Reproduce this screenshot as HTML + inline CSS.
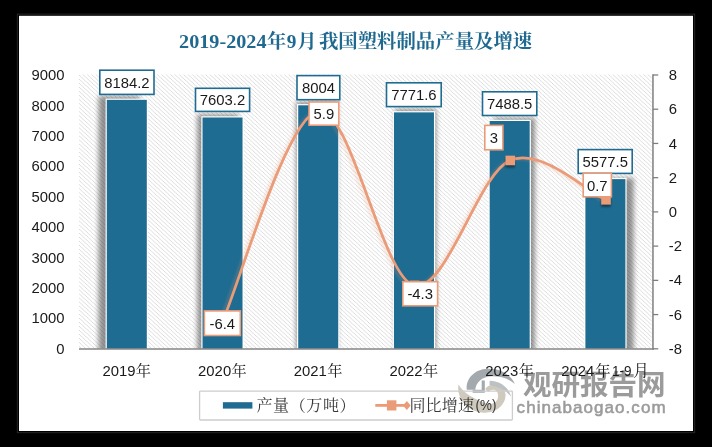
<!DOCTYPE html>
<html><head><meta charset="utf-8"><title>2019-2024年9月我国塑料制品产量及增速</title>
<style>html,body{margin:0;padding:0;background:#000;}body{width:712px;height:447px;overflow:hidden;font-family:"Liberation Sans",sans-serif;}svg{display:block;}</style>
</head><body>
<svg width="712" height="447" viewBox="0 0 712 447" role="img"><title>2019-2024年9月我国塑料制品产量及增速</title>
<defs>
<pattern id="hatch" width="4" height="4" patternUnits="userSpaceOnUse" patternTransform="translate(79,75) scale(1.095,1.0125)"><rect width="4" height="4" fill="#fff"/><path d="M-1,-1L5,5M-1,3L1,5M3,-1L5,1" stroke="#d5d5d5" stroke-width="0.8" fill="none"/></pattern>
<filter id="b2" x="-50%" y="-20%" width="200%" height="140%"><feGaussianBlur stdDeviation="2.4"/></filter>
<filter id="b1" x="-50%" y="-50%" width="200%" height="200%"><feGaussianBlur stdDeviation="1.3"/></filter>
<clipPath id="plot"><rect x="79" y="74.5" width="574" height="274.3"/></clipPath>
</defs>
<rect width="712" height="447" fill="#000"/>
<g opacity="0.999">
<rect x="17.3" y="14.1" width="677.4" height="418.6" fill="none" stroke="#2a2a2a" stroke-width="0.9"/>
<rect x="19" y="15.8" width="674" height="415.2" fill="#fff"/>
<rect x="79.0" y="74.5" width="572.75" height="274.3" fill="url(#hatch)"/>
<g clip-path="url(#plot)">
<rect x="98.51" y="96.13" width="41.28" height="262.95" fill="#000" opacity="0.42" filter="url(#b2)"/>
<rect x="197.29" y="114.37" width="41.28" height="244.71" fill="#000" opacity="0.42" filter="url(#b2)"/>
<rect x="296.07" y="101.79" width="41.28" height="257.29" fill="#000" opacity="0.42" filter="url(#b2)"/>
<rect x="394.85" y="109.09" width="41.28" height="250.00" fill="#000" opacity="0.42" filter="url(#b2)"/>
<rect x="493.64" y="117.97" width="41.28" height="241.11" fill="#000" opacity="0.42" filter="url(#b2)"/>
<rect x="592.42" y="177.97" width="41.28" height="181.11" fill="#000" opacity="0.42" filter="url(#b2)"/>
</g>
<rect x="105.60" y="98.62" width="42.40" height="250.18" fill="#fff"/>
<rect x="106.80" y="99.82" width="40.00" height="248.98" fill="#1e6c91"/>
<rect x="201.32" y="116.29" width="42.40" height="232.51" fill="#fff"/>
<rect x="202.52" y="117.49" width="40.00" height="231.31" fill="#1e6c91"/>
<rect x="297.04" y="104.10" width="42.40" height="244.70" fill="#fff"/>
<rect x="298.24" y="105.30" width="40.00" height="243.50" fill="#1e6c91"/>
<rect x="392.76" y="111.17" width="42.40" height="237.63" fill="#fff"/>
<rect x="393.96" y="112.37" width="40.00" height="236.43" fill="#1e6c91"/>
<rect x="488.48" y="119.78" width="42.40" height="229.02" fill="#fff"/>
<rect x="489.68" y="120.98" width="40.00" height="227.82" fill="#1e6c91"/>
<rect x="584.20" y="177.92" width="42.40" height="170.88" fill="#fff"/>
<rect x="585.40" y="179.12" width="40.00" height="169.68" fill="#1e6c91"/>
<line x1="79.0" y1="349.0" x2="653.6500000000001" y2="349.0" stroke="#868686" stroke-width="1.6"/>
<line x1="652.95" y1="74.3" x2="652.95" y2="349.7" stroke="#868686" stroke-width="1.6"/>
<line x1="652.95" y1="75.00" x2="658.25" y2="75.00" stroke="#7c7c7c" stroke-width="1.25"/>
<text x="668.7" y="80.10" font-family="'Liberation Sans', sans-serif" font-size="14.85" fill="#1a1a1a">8</text>
<line x1="652.95" y1="109.22" x2="658.25" y2="109.22" stroke="#7c7c7c" stroke-width="1.25"/>
<text x="668.7" y="114.32" font-family="'Liberation Sans', sans-serif" font-size="14.85" fill="#1a1a1a">6</text>
<line x1="652.95" y1="143.45" x2="658.25" y2="143.45" stroke="#7c7c7c" stroke-width="1.25"/>
<text x="668.7" y="148.55" font-family="'Liberation Sans', sans-serif" font-size="14.85" fill="#1a1a1a">4</text>
<line x1="652.95" y1="177.68" x2="658.25" y2="177.68" stroke="#7c7c7c" stroke-width="1.25"/>
<text x="668.7" y="182.78" font-family="'Liberation Sans', sans-serif" font-size="14.85" fill="#1a1a1a">2</text>
<line x1="652.95" y1="211.90" x2="658.25" y2="211.90" stroke="#7c7c7c" stroke-width="1.25"/>
<text x="668.7" y="217.00" font-family="'Liberation Sans', sans-serif" font-size="14.85" fill="#1a1a1a">0</text>
<line x1="652.95" y1="246.12" x2="658.25" y2="246.12" stroke="#7c7c7c" stroke-width="1.25"/>
<text x="668.7" y="251.22" font-family="'Liberation Sans', sans-serif" font-size="14.85" fill="#1a1a1a">-2</text>
<line x1="652.95" y1="280.35" x2="658.25" y2="280.35" stroke="#7c7c7c" stroke-width="1.25"/>
<text x="668.7" y="285.45" font-family="'Liberation Sans', sans-serif" font-size="14.85" fill="#1a1a1a">-4</text>
<line x1="652.95" y1="314.58" x2="658.25" y2="314.58" stroke="#7c7c7c" stroke-width="1.25"/>
<text x="668.7" y="319.68" font-family="'Liberation Sans', sans-serif" font-size="14.85" fill="#1a1a1a">-6</text>
<line x1="652.95" y1="348.80" x2="658.25" y2="348.80" stroke="#7c7c7c" stroke-width="1.25"/>
<text x="668.7" y="353.90" font-family="'Liberation Sans', sans-serif" font-size="14.85" fill="#1a1a1a">-8</text>
<text x="64.6" y="353.90" font-family="'Liberation Sans', sans-serif" font-size="14.85" fill="#1a1a1a" text-anchor="end">0</text>
<text x="64.6" y="323.48" font-family="'Liberation Sans', sans-serif" font-size="14.85" fill="#1a1a1a" text-anchor="end">1000</text>
<text x="64.6" y="293.06" font-family="'Liberation Sans', sans-serif" font-size="14.85" fill="#1a1a1a" text-anchor="end">2000</text>
<text x="64.6" y="262.63" font-family="'Liberation Sans', sans-serif" font-size="14.85" fill="#1a1a1a" text-anchor="end">3000</text>
<text x="64.6" y="232.21" font-family="'Liberation Sans', sans-serif" font-size="14.85" fill="#1a1a1a" text-anchor="end">4000</text>
<text x="64.6" y="201.79" font-family="'Liberation Sans', sans-serif" font-size="14.85" fill="#1a1a1a" text-anchor="end">5000</text>
<text x="64.6" y="171.37" font-family="'Liberation Sans', sans-serif" font-size="14.85" fill="#1a1a1a" text-anchor="end">6000</text>
<text x="64.6" y="140.94" font-family="'Liberation Sans', sans-serif" font-size="14.85" fill="#1a1a1a" text-anchor="end">7000</text>
<text x="64.6" y="110.52" font-family="'Liberation Sans', sans-serif" font-size="14.85" fill="#1a1a1a" text-anchor="end">8000</text>
<text x="64.6" y="80.10" font-family="'Liberation Sans', sans-serif" font-size="14.85" fill="#1a1a1a" text-anchor="end">9000</text>
<path d="M222.52,321.42C238.47,286.34 286.33,116.93 318.24,110.94C350.15,104.95 382.05,277.21 413.96,285.48C445.87,293.75 477.77,174.82 509.68,160.56C541.59,146.30 589.45,193.36 605.40,199.92" fill="none" stroke="#ea9b78" stroke-width="3" opacity="0.2" transform="translate(-3,1)" filter="url(#b1)"/>
<path d="M222.52,321.42C238.47,286.34 286.33,116.93 318.24,110.94C350.15,104.95 382.05,277.21 413.96,285.48C445.87,293.75 477.77,174.82 509.68,160.56C541.59,146.30 589.45,193.36 605.40,199.92" fill="none" stroke="#ea9b78" stroke-width="2.8" stroke-linecap="round" stroke-linejoin="round"/>
<rect x="218.32" y="319.42" width="9.4" height="9" fill="#000" opacity="0.45" filter="url(#b1)"/>
<rect x="218.32" y="316.52" width="9.6" height="9.6" fill="#ea9b78"/>
<rect x="314.04" y="108.94" width="9.4" height="9" fill="#000" opacity="0.45" filter="url(#b1)"/>
<rect x="314.04" y="106.04" width="9.6" height="9.6" fill="#ea9b78"/>
<rect x="409.76" y="283.48" width="9.4" height="9" fill="#000" opacity="0.45" filter="url(#b1)"/>
<rect x="409.76" y="280.58" width="9.6" height="9.6" fill="#ea9b78"/>
<rect x="505.48" y="158.56" width="9.4" height="9" fill="#000" opacity="0.45" filter="url(#b1)"/>
<rect x="505.48" y="155.66" width="9.6" height="9.6" fill="#ea9b78"/>
<rect x="601.20" y="197.92" width="9.4" height="9" fill="#000" opacity="0.45" filter="url(#b1)"/>
<rect x="601.20" y="195.02" width="9.6" height="9.6" fill="#ea9b78"/>
<rect x="99.80" y="70.20" width="54.20" height="24.20" fill="#fff" stroke="#1e6c91" stroke-width="1.6"/>
<text x="126.90" y="87.90" font-family="'Liberation Sans', sans-serif" font-size="14.85" fill="#1a1a1a" text-anchor="middle">8184.2</text>
<rect x="195.50" y="88.30" width="54.10" height="23.10" fill="#fff" stroke="#1e6c91" stroke-width="1.6"/>
<text x="222.55" y="105.45" font-family="'Liberation Sans', sans-serif" font-size="14.85" fill="#1a1a1a" text-anchor="middle">7603.2</text>
<rect x="297.00" y="75.60" width="42.80" height="24.10" fill="#fff" stroke="#1e6c91" stroke-width="1.6"/>
<text x="318.40" y="93.25" font-family="'Liberation Sans', sans-serif" font-size="14.85" fill="#1a1a1a" text-anchor="middle">8004</text>
<rect x="386.50" y="82.80" width="54.70" height="23.80" fill="#fff" stroke="#1e6c91" stroke-width="1.6"/>
<text x="413.85" y="100.30" font-family="'Liberation Sans', sans-serif" font-size="14.85" fill="#1a1a1a" text-anchor="middle">7771.6</text>
<rect x="482.50" y="91.80" width="54.30" height="23.70" fill="#fff" stroke="#1e6c91" stroke-width="1.6"/>
<text x="509.65" y="109.25" font-family="'Liberation Sans', sans-serif" font-size="14.85" fill="#1a1a1a" text-anchor="middle">7488.5</text>
<rect x="578.20" y="149.60" width="54.00" height="23.80" fill="#fff" stroke="#1e6c91" stroke-width="1.6"/>
<text x="605.20" y="167.10" font-family="'Liberation Sans', sans-serif" font-size="14.85" fill="#1a1a1a" text-anchor="middle">5577.5</text>
<rect x="204.40" y="310.90" width="35.90" height="24.60" fill="#fff" stroke="#ea9b78" stroke-width="1.6"/>
<text x="222.35" y="328.80" font-family="'Liberation Sans', sans-serif" font-size="14.85" fill="#1a1a1a" text-anchor="middle">-6.4</text>
<rect x="309.00" y="102.00" width="29.80" height="23.20" fill="#fff" stroke="#ea9b78" stroke-width="1.6"/>
<text x="323.90" y="119.20" font-family="'Liberation Sans', sans-serif" font-size="14.85" fill="#1a1a1a" text-anchor="middle">5.9</text>
<rect x="402.80" y="281.70" width="34.80" height="24.10" fill="#fff" stroke="#ea9b78" stroke-width="1.6"/>
<text x="420.20" y="299.35" font-family="'Liberation Sans', sans-serif" font-size="14.85" fill="#1a1a1a" text-anchor="middle">-4.3</text>
<rect x="484.80" y="125.40" width="18.10" height="24.40" fill="#fff" stroke="#ea9b78" stroke-width="1.6"/>
<text x="493.85" y="143.20" font-family="'Liberation Sans', sans-serif" font-size="14.85" fill="#1a1a1a" text-anchor="middle">3</text>
<rect x="583.20" y="173.20" width="28.20" height="23.60" fill="#fff" stroke="#ea9b78" stroke-width="1.6"/>
<text x="597.30" y="190.60" font-family="'Liberation Sans', sans-serif" font-size="14.85" fill="#1a1a1a" text-anchor="middle">0.7</text>

<g transform="translate(452,362) scale(0.12522)">
<path d="M52,180 C35,270 100,395 250,405 C350,410 428,345 428,262 C425,215 380,180 330,182 C300,183 278,195 265,215 L290,240 C300,225 320,218 338,222 C372,230 380,290 350,318 C322,342 282,340 246,321 C180,290 100,262 52,180 Z" fill="#cfcabd"/>
<path d="M118,222 C108,150 165,58 285,54 C390,50 465,100 502,175 C450,130 385,112 315,114 C245,116 190,160 186,222 Z" fill="#a3a9ac"/>
<path d="M300,150 C385,150 455,205 472,278 C430,225 372,195 300,186 Z" fill="#bcc1c4"/>
<path d="M237,148 L262,148 L262,246 L165,246 L165,222 L237,222 Z" fill="#a3a9ac"/>
</g>
<g>
<text x="522.9" y="394.6" font-family="'Liberation Sans', 'Noto Sans CJK SC', sans-serif" font-size="28.5" font-weight="bold" fill="#9b9b9b" textLength="142.7" lengthAdjust="spacingAndGlyphs">观研报告网</text>
</g>
<text x="516.6" y="413.2" font-family="'Liberation Sans', sans-serif" font-size="17" fill="#9b9b9b" stroke="#9b9b9b" stroke-width="0.55" textLength="149" lengthAdjust="spacing">chinabaogao.com</text>
<text x="102.39" y="375.6" font-family="'Liberation Sans', sans-serif" font-size="14.85" fill="#1a1a1a">2019</text>
<text x="135.75" y="375.6" font-family="'Liberation Serif', 'Noto Serif CJK SC', serif" font-size="15.2" fill="#1a1a1a">年</text>
<text x="198.11" y="375.6" font-family="'Liberation Sans', sans-serif" font-size="14.85" fill="#1a1a1a">2020</text>
<text x="231.47" y="375.6" font-family="'Liberation Serif', 'Noto Serif CJK SC', serif" font-size="15.2" fill="#1a1a1a">年</text>
<text x="293.83" y="375.6" font-family="'Liberation Sans', sans-serif" font-size="14.85" fill="#1a1a1a">2021</text>
<text x="327.19" y="375.6" font-family="'Liberation Serif', 'Noto Serif CJK SC', serif" font-size="15.2" fill="#1a1a1a">年</text>
<text x="389.55" y="375.6" font-family="'Liberation Sans', sans-serif" font-size="14.85" fill="#1a1a1a">2022</text>
<text x="422.91" y="375.6" font-family="'Liberation Serif', 'Noto Serif CJK SC', serif" font-size="15.2" fill="#1a1a1a">年</text>
<text x="485.27" y="375.6" font-family="'Liberation Sans', sans-serif" font-size="14.85" fill="#1a1a1a">2023</text>
<text x="518.63" y="375.6" font-family="'Liberation Serif', 'Noto Serif CJK SC', serif" font-size="15.2" fill="#1a1a1a">年</text>
<text x="561.2" y="375.6" font-family="'Liberation Sans', sans-serif" font-size="14.85" fill="#1a1a1a">2024</text>
<text x="595.23" y="375.6" font-family="'Liberation Serif', 'Noto Serif CJK SC', serif" font-size="15.3" fill="#1a1a1a">年</text>
<text x="611.9" y="375.6" font-family="'Liberation Sans', sans-serif" font-size="14.85" fill="#1a1a1a" textLength="19.6" lengthAdjust="spacingAndGlyphs">1-9</text>
<text x="633.27" y="375.6" font-family="'Liberation Serif', 'Noto Serif CJK SC', serif" font-size="15.6" fill="#1a1a1a">月</text>
<g font-family="'Liberation Serif', 'Noto Serif CJK SC', serif" font-size="19.3" font-weight="bold" fill="#1f6990">
<text x="179.1" y="48" textLength="87.4" lengthAdjust="spacingAndGlyphs">2019-2024</text>
<text x="266.9" y="48">年</text>
<text x="286.8" y="48">9</text>
<text x="297.3" y="48">月</text>
<text x="318.9" y="48" textLength="213.3" lengthAdjust="spacingAndGlyphs">我国塑料制品产量及增速</text>
</g>
<rect x="199.6" y="391.1" width="312.8" height="28.9" rx="0.8" fill="none" stroke="#cdcdcd" stroke-width="1.3"/>
<rect x="222.9" y="402.2" width="29.5" height="6.4" fill="#1e6c91"/>
<g>
<text x="256.5" y="410.9" font-family="'Liberation Serif', 'Noto Serif CJK SC', serif" font-size="16" fill="#363636" textLength="99" lengthAdjust="spacing">产量（万吨）</text>
</g>
<line x1="375.3" y1="405.4" x2="405" y2="405.4" stroke="#ea9b78" stroke-width="2.8"/>
<rect x="386.9" y="400.3" width="9.5" height="10.2" fill="#ea9b78"/>
<path d="M402.9,405.4L406.9,400.9L410.6,405.4L406.9,409.9Z" fill="#ea9b78"/>
<g>
<text x="409.4" y="410.9" font-family="'Liberation Serif', 'Noto Serif CJK SC', serif" font-size="16" fill="#363636" textLength="64.6" lengthAdjust="spacing">同比增速</text>
<text x="475.6" y="409.9" font-family="'Liberation Sans', sans-serif" font-size="14.85" fill="#363636" textLength="20.8" lengthAdjust="spacingAndGlyphs">(%)</text>
</g>
</g>
</svg>
</body></html>
